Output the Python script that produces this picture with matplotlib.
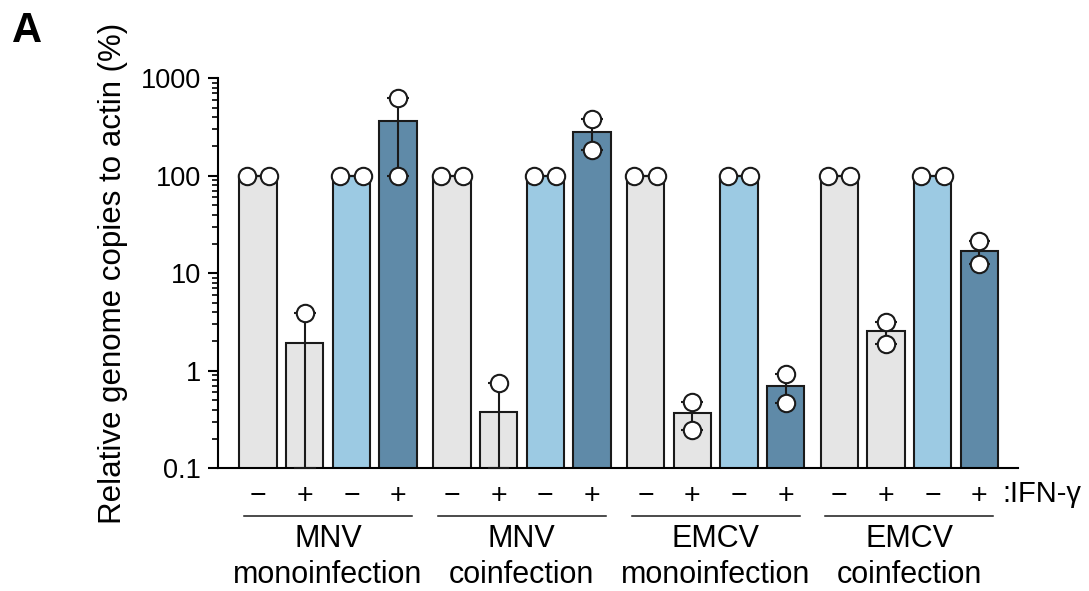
import numpy as np
import matplotlib
matplotlib.use("Agg")
import matplotlib.pyplot as plt
from matplotlib.transforms import blended_transform_factory
from matplotlib.ticker import FixedLocator, NullFormatter, LogLocator

plt.rcParams['font.family'] = ['Liberation Sans', 'DejaVu Sans']

# data
virus = ["MNV", "MNV", "EMCV", "EMCV"]
infection = ["monoinfection", "coinfection", "monoinfection", "coinfection"]
ifn = ["\u2212", "+", "\u2212", "+"]
# two replicates per bar; 0 = not detected (falls below the axis)
rep1 = [100, 3.9, 100, 630, 100, 0.75, 100, 383, 100, 0.48, 100, 0.93, 100, 3.2, 100, 21.5]
rep2 = [100, 0.0, 100, 100, 100, 0.0, 100, 183, 100, 0.25, 100, 0.47, 100, 1.9, 100, 12.5]
colors = ["#e5e5e5", "#e5e5e5", "#9ccae3", "#5f8aa8"]
yticks = [0.1, 1, 10, 100, 1000]
ytick_labels = ["0.1", "1", "10", "100", "1000"]

edge = "#1a1a1a"
lw = 1.5
gstep = 4.15

fig = plt.figure(figsize=(10.89, 5.91), dpi=100)
ax = fig.add_axes([218 / 1089, 1 - 468.3 / 591, 800 / 1089, 390 / 591])

r1 = np.array(rep1, dtype=float)
r2 = np.array(rep2, dtype=float)
means = (r1 + r2) / 2
sem = np.abs(r1 - r2) / 2
lo = np.maximum(means - sem, 0.1)   # clipped at the axis floor
hi = means + sem

x = []
for g in range(len(virus)):
    for i in range(4):
        x.append(g * gstep + i)
x = np.array(x)
bar_colors = [colors[i % 4] for i in range(len(x))]

ax.set_yscale("log")
ax.bar(x, means, width=0.8, color=bar_colors, edgecolor=edge, linewidth=lw, zorder=2)

# SEM bars drawn by hand so the clipped ones still reach the axis
ax.vlines(x, lo, hi, color=edge, lw=lw, zorder=3, clip_on=False)
cw = 0.23
ax.hlines(hi, x - cw, x + cw, color=edge, lw=lw, zorder=3, clip_on=False)
ax.hlines(lo, x - cw, x + cw, color=edge, lw=lw, zorder=3, clip_on=False)

for xi, a, b in zip(x, r1, r2):
    if a == b:
        px, py = [xi - 0.24, xi + 0.24], [a, b]
    else:
        px, py = [xi, xi], [a, b]
    keep = [k for k in range(2) if py[k] > 0]
    ax.plot([px[k] for k in keep], [py[k] for k in keep], "o", ms=12.5,
            mfc="white", mec=edge, mew=lw, zorder=4, clip_on=False)

ax.set_ylim(0.1, 1000)
ax.set_xlim(-0.86, 16.28)
ax.yaxis.set_major_locator(FixedLocator(yticks))
ax.set_yticklabels(ytick_labels)
ax.yaxis.set_minor_locator(LogLocator(base=10, subs=np.arange(2, 10)))
ax.yaxis.set_minor_formatter(NullFormatter())
ax.tick_params(axis="y", which="major", length=7, width=lw, labelsize=19.5, pad=5)
ax.tick_params(axis="y", which="minor", length=4, width=1.2)
ax.set_xticks([])
for s in ["top", "right"]:
    ax.spines[s].set_visible(False)
for s in ["left", "bottom"]:
    ax.spines[s].set_linewidth(lw)

ax.set_ylabel("Relative genome copies to actin (%)", fontsize=22.5)
ax.yaxis.set_label_coords(-0.112, 0.5)

trans = blended_transform_factory(ax.transData, ax.transAxes)
for xi, k in zip(x, range(len(x))):
    ax.annotate(ifn[k % 4], xy=(xi, 0), xycoords=trans, xytext=(0, -19.6),
                textcoords="offset points", ha="center", va="center", fontsize=20.5)

for g in range(len(virus)):
    c = g * gstep + 1.5
    ax.plot([c - 1.8, c + 1.8], [-0.123, -0.123], transform=trans, color=edge,
            lw=1.1, clip_on=False)
    ax.annotate(virus[g], xy=(c, 0), xycoords=trans, xytext=(0, -56.4),
                textcoords="offset points", ha="center", va="baseline", fontsize=22)
    ax.annotate(infection[g], xy=(c, 0), xycoords=trans, xytext=(0, -82.8),
                textcoords="offset points", ha="center", va="baseline", fontsize=22)

ax.annotate(":IFN-\u03b3", xy=(0.981, 0), xycoords="axes fraction", xytext=(0, -24),
            textcoords="offset points", ha="left", va="baseline", fontsize=21)

fig.text(12 / 1089, 1 - 42 / 591, "A", fontweight="bold", fontsize=30, va="baseline")

fig.savefig("out.png", dpi=100)
